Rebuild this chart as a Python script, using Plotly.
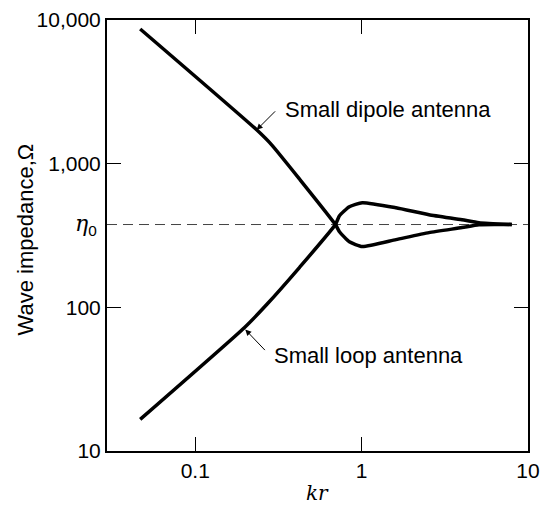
import math
import plotly.graph_objects as go

# ---- data ----
eta0 = 377
dipole_kr = [0.0467, 0.234, 0.288, 0.424, 0.696, 0.736, 0.844, 1.01, 1.61, 2.54, 4.01, 5.07, 7.99]
dipole_z = [8660, 1720, 1352, 780, 377, 336, 286, 265, 296, 331, 359, 376, 377]
loop_kr = [0.0467, 0.198, 0.269, 0.424, 0.696, 0.736, 0.844, 1.01, 1.61, 2.54, 4.01, 5.07, 7.99]
loop_z = [16.6, 72.4, 104.6, 190, 377, 434, 502, 535, 493, 441, 407, 388, 377]
x_tickvals = [0.1, 1, 10]
x_ticktext = ["0.1", "1", "10"]
y_tickvals = [10, 100, 1000, 10000]
y_ticktext = ["10", "100", "1,000", "10,000"]
x_range = [0.0295, 10]
y_range = [10, 10000]

SANS = "Liberation Sans, Arial, Helvetica, sans-serif"
SERIF = "DejaVu Serif, Liberation Serif, serif"
FT = 21
FA = 22

fig = go.Figure()
fig.add_trace(go.Scatter(x=x_range, y=[eta0, eta0], mode="lines",
                         line=dict(color="#444", width=1, dash="10px,6px"),
                         hoverinfo="skip", showlegend=False))
fig.add_trace(go.Scatter(x=dipole_kr, y=dipole_z, mode="lines",
                         line=dict(color="black", width=3.5, shape="spline", smoothing=0.5),
                         showlegend=False))
fig.add_trace(go.Scatter(x=loop_kr, y=loop_z, mode="lines",
                         line=dict(color="black", width=3.5, shape="spline", smoothing=0.5),
                         showlegend=False))

axis_common = dict(showline=True, linecolor="black", linewidth=2, mirror="ticks",
                   ticks="inside", ticklen=14, tickwidth=1, tickcolor="black",
                   showgrid=False, zeroline=False, automargin=False,
                   tickfont=dict(family=SANS, size=FT, color="black"))

fig.update_xaxes(type="log", range=[math.log10(x_range[0]), math.log10(x_range[1])],
                 tickvals=x_tickvals, ticktext=x_ticktext, ticklabelstandoff=0, **axis_common)
fig.update_yaxes(type="log", range=[math.log10(y_range[0]), math.log10(y_range[1])],
                 tickvals=y_tickvals, ticktext=y_ticktext, **axis_common)

ann = []
# eta0 label
ann.append(dict(xref="paper", yref="y", x=0, y=math.log10(eta0), xshift=-8,
                xanchor="right", yanchor="middle", showarrow=False,
                text="<span style='font-family:DejaVu Serif'><i>η</i></span><sub>0</sub>",
                font=dict(family=SANS, size=FA, color="black")))
# axis titles
ann.append(dict(xref="paper", yref="paper", x=0.5, y=0, yshift=-42, xanchor="center",
                yanchor="middle", showarrow=False, text="<i>kr</i>",
                font=dict(family=SERIF, size=20, color="black")))
ann.append(dict(xref="paper", yref="paper", x=0, y=0.5, xshift=-82, yshift=-4,
                xanchor="center", yanchor="middle", showarrow=False, textangle=-90,
                text="Wave impedance,Ω", font=dict(family=SANS, size=FA, color="black")))
# curve labels
ann.append(dict(x=math.log10(0.335), y=math.log10(2371), xanchor="left", yanchor="middle",
                showarrow=False, text="Small dipole antenna",
                font=dict(family=SANS, size=FA, color="black")))
ann.append(dict(x=math.log10(0.234), y=math.log10(1720), text="", showarrow=True,
                ax=20, ay=-20, arrowhead=2, arrowsize=1.2, arrowwidth=1, arrowcolor="black"))
ann.append(dict(x=math.log10(0.290), y=math.log10(46.2), xanchor="left", yanchor="middle",
                showarrow=False, text="Small loop antenna",
                font=dict(family=SANS, size=FA, color="black")))
ann.append(dict(x=math.log10(0.200), y=math.log10(70), text="", showarrow=True,
                ax=21, ay=22, arrowhead=2, arrowsize=1.2, arrowwidth=1, arrowcolor="black"))

fig.update_layout(width=542, height=506, margin=dict(l=107, r=14, t=20, b=55),
                  paper_bgcolor="white", plot_bgcolor="white", annotations=ann,
                  showlegend=False)
fig.write_html("out.html", config={"displayModeBar": False},
               post_script="document.body.style.margin='0';document.body.style.overflow='hidden';")
